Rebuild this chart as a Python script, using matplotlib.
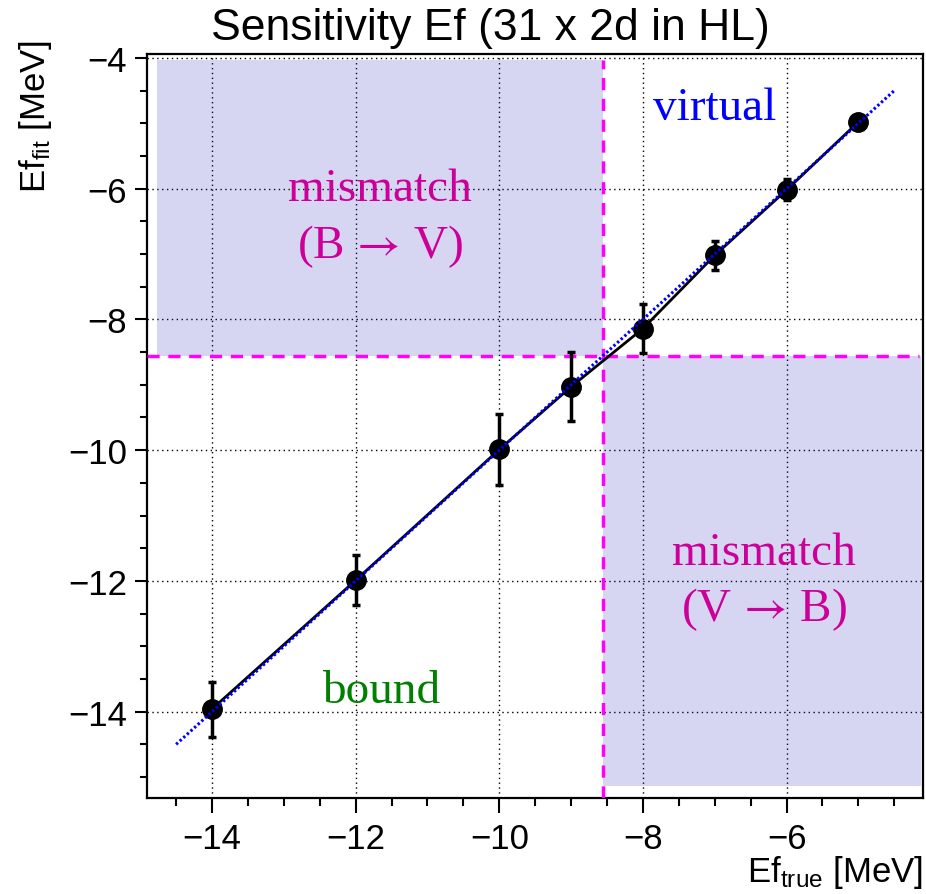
import matplotlib as mpl
mpl.use('Agg')
import numpy as np
import matplotlib.pyplot as plt
from matplotlib.patches import Rectangle

# fit results: true vs fitted Fermi energy (MeV)
ef_true = [-14, -12, -10, -9, -8, -7, -6, -5]
ef_fit = [-13.96, -11.99, -9.99, -9.03, -8.14, -7.02, -6.02, -4.98]
ef_err = [0.42, 0.38, 0.54, 0.53, 0.38, 0.22, 0.16, 0.08]

# bound / virtual boundary
ef_edge = -8.56
diag_range = [-14.5, -4.5]

plt.rcParams['font.family'] = ['Liberation Sans', 'DejaVu Sans']
plt.rcParams['mathtext.fontset'] = 'custom'
plt.rcParams['mathtext.rm'] = 'Liberation Sans'
plt.rcParams['mathtext.it'] = 'Liberation Sans:italic'

fig = plt.figure(figsize=(9.26, 8.95), dpi=100)
ax = fig.add_axes([0.1584, 0.1073, 0.8384, 0.8313])
ax.set_xlim(-14.91, -4.10)
ax.set_ylim(-15.32, -3.94)

ax.set_xticks(np.arange(-14, -4, 2))
ax.set_xticks(np.arange(-14.5, -4.0, 0.5), minor=True)
ax.set_yticks(np.arange(-14, -3, 2))
ax.set_yticks(np.arange(-15, -3.9, 0.5), minor=True)
ax.tick_params(axis='x', which='major', length=11, width=1.5, labelsize=25, pad=6)
ax.tick_params(axis='x', which='minor', length=6, width=1.5)
ax.tick_params(axis='y', which='major', length=9, width=1.5, labelsize=25, pad=5)
ax.tick_params(axis='y', which='minor', length=5, width=1.5)
for s in ax.spines.values():
    s.set_linewidth(1.6)

ax.grid(True, which='major', color='black', linestyle=(0, (1, 2.5)), linewidth=1.0, zorder=1)
ax.set_axisbelow(True)

# mismatch regions
shade = dict(facecolor=(50/255, 50/255, 190/255), alpha=0.2, edgecolor='none', zorder=2)
ax.add_patch(Rectangle((-14.76, ef_edge), ef_edge + 14.76, -4.04 - ef_edge, **shade))
ax.add_patch(Rectangle((ef_edge, -15.14), -4.13 - ef_edge, ef_edge + 15.14, **shade))

ax.plot([ef_edge, ef_edge], [-15.32, -4.03], color='#ff00ff', linewidth=2.5,
        linestyle=(0, (3.5, 2.5)), zorder=3)
ax.plot([-14.91, -4.15], [ef_edge, ef_edge], color='#ff00ff', linewidth=2.5,
        linestyle=(0, (3.5, 2.5)), zorder=3)

# y = x reference and fitted points
ax.plot(diag_range, diag_range, color='blue', linewidth=2.2, linestyle=(0, (0.8, 0.8)), zorder=5)
ax.errorbar(ef_true, ef_fit, yerr=ef_err, color='black', linewidth=2, marker='o',
            markersize=14, elinewidth=2.5, capsize=3, capthick=2.5, zorder=4)

serif = ['Liberation Serif', 'DejaVu Serif']
mag = '#cc0099'
txt = dict(family=serif, fontsize=34, ha='center', va='baseline')
ax.text(-11.665, -6.18, 'mismatch', color=mag, **txt)
ax.text(-11.665, -7.04, r'(B$\,\rightarrow\,$V)', color=mag, math_fontfamily='stix', **txt)
ax.text(-6.32, -11.74, 'mismatch', color=mag, **txt)
ax.text(-6.32, -12.60, r'(V$\,\rightarrow\,$B)', color=mag, math_fontfamily='stix', **txt)
ax.text(-7.0, -4.94, 'virtual', color='blue', **txt)
ax.text(-11.64, -13.85, 'bound', color='green', **txt)

fig.text(490/926, 1 - 40/895, 'Sensitivity Ef (31 x 2d in HL)', fontsize=32, ha='center', va='baseline')
fig.text(923/926, 1 - 882/895, r'Ef$_{\mathrm{true}}$ [MeV]', fontsize=25, ha='right', va='baseline')
fig.text(35/926, 1 - 40/895, r'Ef$_{\mathrm{fit}}$ [MeV]', fontsize=25, rotation=90, ha='center', va='top')

fig.savefig('out.png', dpi=100)
